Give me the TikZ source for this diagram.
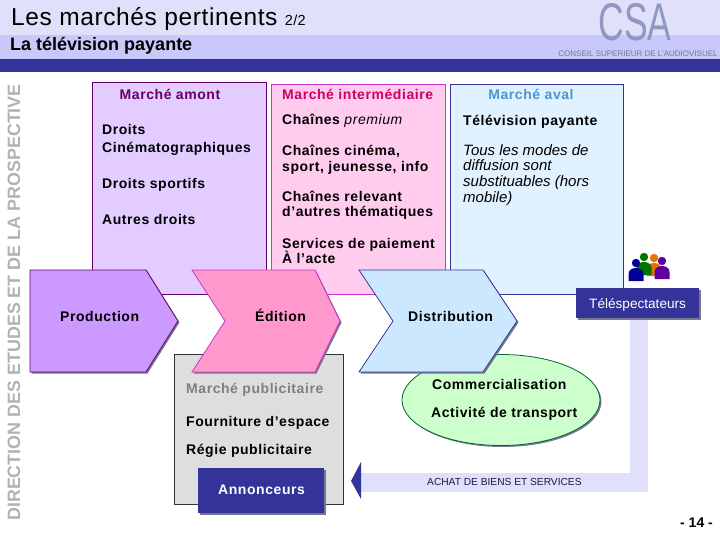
\documentclass[tikz,border=0pt]{standalone}
\usepackage{fontspec}
\setmainfont{Liberation Sans}
\newfontfamily\widefont[LetterSpace=4]{Liberation Sans}
\newfontfamily\titlefont[LetterSpace=2.5]{Liberation Sans}
\usetikzlibrary{shadows}
\definecolor{navy}{HTML}{333399}
\definecolor{bandlight}{HTML}{E0E0FA}
\definecolor{bandmid}{HTML}{C8C8FA}
\definecolor{logoblue}{HTML}{8E98C0}
\definecolor{amontfill}{HTML}{E3CCFF}
\definecolor{amontline}{HTML}{660066}
\definecolor{interfill}{HTML}{FFCCEE}
\definecolor{interline}{HTML}{CC33CC}
\definecolor{intertext}{HTML}{CC0066}
\definecolor{avalfill}{HTML}{E0F2FF}
\definecolor{avaltext}{HTML}{4C96CF}
\definecolor{prodfill}{HTML}{CC99FF}
\definecolor{editfill}{HTML}{FF99CC}
\definecolor{distfill}{HTML}{CCE8FF}
\definecolor{ellipsefill}{HTML}{CCFFCC}
\definecolor{ellipseline}{HTML}{006633}
\definecolor{shadowgrey}{HTML}{77778F}
\tikzset{
  txt/.style={anchor=base west,inner sep=0pt,font=\widefont\bfseries\fontsize{14}{16}\selectfont},
  slanted/.style={anchor=base west,inner sep=0pt,font=\itshape\fontsize{15}{16}\selectfont},
  shade/.style={general shadow={shadow xshift=1.5pt,shadow yshift=-1.5pt,fill=shadowgrey}},
  marketbox/.style={draw,line width=0.8pt},
  chevron/.style={draw,line width=0.8pt,shade}
}
\begin{document}
\begin{tikzpicture}[x=1pt,y=-1pt]
\useasboundingbox (0,0) rectangle (720,540);
% header
\fill[bandlight] (0,0) rectangle (720,35);
\fill[bandmid] (0,35) rectangle (720,59);
\fill[navy] (0,59) rectangle (720,72);
\node[anchor=base west,inner sep=0pt,font=\titlefont\fontsize{24.5}{26}\selectfont] (title) at (11,26) {Les marchés pertinents {\fontsize{14.5}{16}\selectfont 2/2}};
\node[anchor=base west,inner sep=0pt,font=\bfseries\fontsize{18}{20}\selectfont] (subtitle) at (10,51) {La télévision payante};
\node[anchor=base,inner sep=0pt,xscale=0.67,text=logoblue,font=\fontsize{53}{53}\selectfont] (logo) at (635,41) {CSA};
\node[anchor=base,inner sep=0pt,text=logoblue!80!black,font=\fontsize{8}{8}\selectfont] (logotext) at (638,57) {CONSEIL SUPERIEUR DE L'AUDIOVISUEL};
\node[anchor=base west,inner sep=0pt,rotate=90,text=black!30,font=\bfseries\fontsize{17.9}{18}\selectfont] (direction) at (20,521) {DIRECTION DES ETUDES ET DE LA PROSPECTIVE};
% the three markets
\draw[marketbox,draw=amontline,fill=amontfill] (92,82) rectangle (266,294);
\draw[marketbox,draw=interline,fill=interfill] (271,84) rectangle (445,294);
\draw[marketbox,draw=navy,fill=avalfill] (450,84) rectangle (623,294);
\node[txt,anchor=base,text=amontline] (amont) at (170,100) {Marché amont};
\node[txt] (droits) at (102,135) {Droits};
\node[txt] (cinema) at (102,153) {Cinématographiques};
\node[txt] (sport) at (102,189) {Droits sportifs};
\node[txt] (autres) at (102,225) {Autres droits};
\node[txt,text=intertext] (inter) at (282,100) {Marché intermédiaire};
\node[txt] (premium) at (282,125) {Chaînes {\itshape\mdseries premium}};
\node[txt] (cine) at (282,156) {Chaînes cinéma,};
\node[txt] (jeunesse) at (282,172) {sport, jeunesse, info};
\node[txt] (relevant) at (282,202) {Chaînes relevant};
\node[txt] (themes) at (282,217) {d’autres thématiques};
\node[txt] (services) at (282,248) {Services de paiement};
\node[txt] (acte) at (282,263) {À l’acte};
\node[txt,anchor=base,text=avaltext] (aval) at (531,100) {Marché aval};
\node[txt] (tele) at (463,126) {Télévision payante};
\node[slanted] (modes) at (463,156) {Tous les modes de};
\node[slanted] (diffusion) at (463,171) {diffusion sont};
\node[slanted] (subst) at (463,187) {substituables (hors};
\node[slanted] (mobile) at (463,203) {mobile)};
% side boxes under the chain
\draw[marketbox,draw=black!80,fill=black!13] (174,354) rectangle (343,504);
\draw[draw=ellipseline,line width=0.8pt,fill=ellipsefill,shade] (501,400) ellipse [x radius=99,y radius=45.5];
\node[txt] (comm) at (432,389) {Commercialisation};
\node[txt] (transport) at (431,417) {Activité de transport};
% value chain
\draw[chevron,draw=amontline,fill=prodfill] (30,270) -- (146,270) -- (178,321) -- (146,372) -- (30,372) -- cycle;
\draw[chevron,draw=interline,fill=editfill] (192,270) -- (315,270) -- (340,321) -- (315,372) -- (192,372) -- (225,321) -- cycle;
\draw[chevron,draw=navy,fill=distfill] (359,270) -- (483,270) -- (517,321) -- (483,372) -- (359,372) -- (393,321) -- cycle;
\node[txt] (production) at (60,321) {Production};
\node[txt] (edition) at (255,321) {Édition};
\node[txt] (distribution) at (408,321) {Distribution};
% advertising market
\node[txt,text=black!50] (pub) at (186,393) {Marché publicitaire};
\node[txt] (espace) at (186,426) {Fourniture d’espace};
\node[txt] (regie) at (186,454) {Régie publicitaire};
\fill[navy,shade] (198,468) rectangle (324,513);
\node[txt,text=white] (annonceurs) at (218,494) {Annonceurs};
% return band
\fill[bandlight] (630,318) rectangle (648,492);
\fill[bandlight] (361,473) rectangle (648,492);
\fill[navy] (361,462) -- (361,499) -- (351,481) -- cycle;
\node[anchor=base west,inner sep=0pt,text=navy!50!black,font=\fontsize{10.2}{11}\selectfont] (achat) at (427,485) {ACHAT DE BIENS ET SERVICES};
\fill[navy,shade] (576,288) rectangle (699,318);
\node[anchor=base west,inner sep=0pt,text=white,font=\fontsize{13.6}{15}\selectfont] (viewers) at (589,308) {Téléspectateurs};
% audience
\foreach \px/\py/\pcol in {654/258/orange!90!black,644/257/green!45!black,662/261/violet!75!blue,636/263/blue!60!black}{
  \fill[\pcol] (\px,\py) circle (4.2);
  \fill[\pcol] (\px-7.5,\py+18) -- (\px-7.5,\py+11) .. controls (\px-7.5,\py+3) and (\px+7.5,\py+3) .. (\px+7.5,\py+11) -- (\px+7.5,\py+18) -- cycle;
}
\node[anchor=base west,inner sep=0pt,font=\bfseries\fontsize{14}{16}\selectfont] (page) at (680,527) {- 14 -};
\end{tikzpicture}
\end{document}
